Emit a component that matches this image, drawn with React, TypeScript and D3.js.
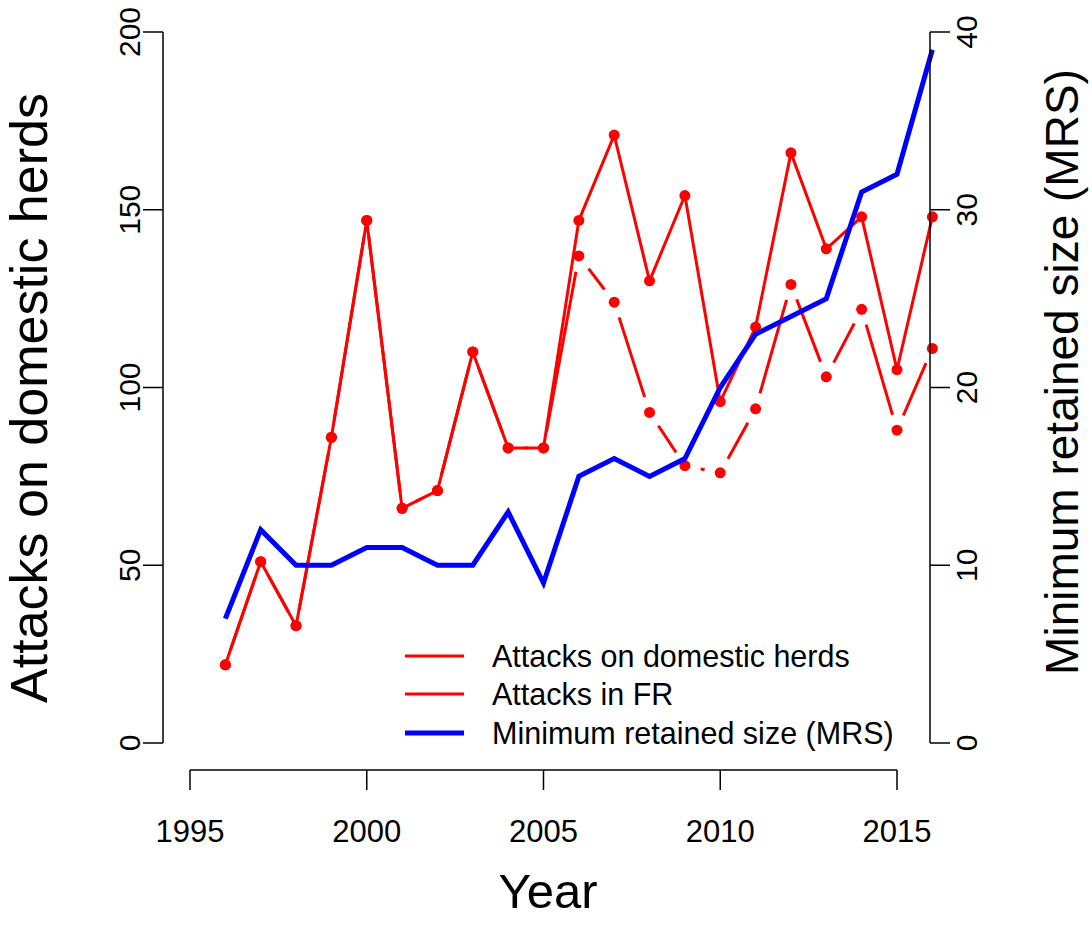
import React from "react";
import * as d3 from "d3";

const years = [1996,1997,1998,1999,2000,2001,2002,2003,2004,2005,2006,2007,2008,2009,2010,2011,2012,2013,2014,2015,2016];
const attacksDomestic = [22,51,33,86,147,66,71,110,83,83,147,171,130,154,96,117,166,139,148,105,148];
const attacksFR = [22,51,33,86,147,66,71,110,83,83,137,124,93,78,76,94,129,103,122,88,111];
const mrs = [7,12,10,10,11,11,10,10,13,9,15,16,15,16,20,23,24,25,31,32,39];
const xTicks = [1995,2000,2005,2010,2015];
const yLeftTicks = [0,50,100,150,200];
const yRightTicks = [0,10,20,30,40];
const legendLabels = ["Attacks on domestic herds","Attacks in FR","Minimum retained size (MRS)"];

const RED = "#ff0000";
const BLUE = "#0000ff";
const FONT = "'Liberation Sans', Arial, sans-serif";

export default function App() {
  const x = d3.scaleLinear().domain([1995, 2015]).range([190, 897]);
  const yL = d3.scaleLinear().domain([0, 200]).range([743, 32]);
  const yR = d3.scaleLinear().domain([0, 40]).range([743, 32]);

  const lineGen = d3.line<[number, number]>().x(d => d[0]).y(d => d[1]);
  const domPts: [number, number][] = years.map((yr, i) => [x(yr), yL(attacksDomestic[i])]);
  const frPts: [number, number][] = years.map((yr, i) => [x(yr), yL(attacksFR[i])]);
  const mrsPts: [number, number][] = years.map((yr, i) => [x(yr), yR(mrs[i])]);

  // type="b" segments with gaps around points
  const gap = 16;
  const frSegs = frPts.slice(0, -1).map((p, i) => {
    const q = frPts[i + 1];
    const dx = q[0] - p[0], dy = q[1] - p[1];
    const len = Math.hypot(dx, dy);
    if (len <= 2 * gap) return null;
    const ux = dx / len, uy = dy / len;
    return [p[0] + ux * gap, p[1] + uy * gap, q[0] - ux * gap, q[1] - uy * gap];
  }).filter(Boolean) as number[][];

  const legendY = [656, 694, 733];

  return (
    <svg width={1092} height={933} style={{ position: "absolute", left: 0, top: 0, background: "#fff" }} fontFamily={FONT}>
      <rect x={0} y={0} width={1092} height={933} fill="#fff" />
      {/* FR line, type b */}
      {frSegs.map((s, i) => (
        <line key={"fs" + i} x1={s[0]} y1={s[1]} x2={s[2]} y2={s[3]} stroke={RED} strokeWidth={3} />
      ))}
      {frPts.map((p, i) => (
        <circle key={"fp" + i} cx={p[0]} cy={p[1]} r={5.5} fill={RED} />
      ))}
      {/* Domestic line, type o */}
      <path d={lineGen(domPts) || ""} fill="none" stroke={RED} strokeWidth={3} strokeLinejoin="round" />
      {domPts.map((p, i) => (
        <circle key={"dp" + i} cx={p[0]} cy={p[1]} r={5.5} fill={RED} />
      ))}
      {/* MRS */}
      <path d={lineGen(mrsPts) || ""} fill="none" stroke={BLUE} strokeWidth={5} strokeLinejoin="miter" />

      {/* Left axis */}
      <line x1={163} x2={163} y1={yL(0)} y2={yL(200)} stroke="#000" strokeWidth={1.5} />
      {yLeftTicks.map(t => (
        <g key={"yl" + t}>
          <line x1={143} x2={163} y1={yL(t)} y2={yL(t)} stroke="#000" strokeWidth={1.5} />
          <text transform={`translate(140,${yL(t)}) rotate(-90)`} textAnchor="middle" fontSize={30} fill="#000">{t}</text>
        </g>
      ))}
      {/* Right axis */}
      <line x1={930} x2={930} y1={yR(0)} y2={yR(40)} stroke="#000" strokeWidth={1.5} />
      {yRightTicks.map(t => (
        <g key={"yr" + t}>
          <line x1={930} x2={950} y1={yR(t)} y2={yR(t)} stroke="#000" strokeWidth={1.5} />
          <text transform={`translate(977,${yR(t)}) rotate(-90)`} textAnchor="middle" fontSize={30} fill="#000">{t}</text>
        </g>
      ))}
      {/* X axis */}
      <line x1={x(1995)} x2={x(2015)} y1={770} y2={770} stroke="#000" strokeWidth={1.5} />
      {xTicks.map(t => (
        <g key={"x" + t}>
          <line x1={x(t)} x2={x(t)} y1={770} y2={790} stroke="#000" strokeWidth={1.5} />
          <text x={x(t)} y={842} textAnchor="middle" fontSize={31} fill="#000">{t}</text>
        </g>
      ))}
      {/* Titles */}
      <text x={548} y={908} textAnchor="middle" fontSize={49} fill="#000">Year</text>
      <text transform={`translate(47,398) rotate(-90)`} textAnchor="middle" fontSize={52} fill="#000">Attacks on domestic herds</text>
      <text transform={`translate(1078,372) rotate(-90)`} textAnchor="middle" fontSize={46} fill="#000">Minimum retained size (MRS)</text>

      {/* Legend */}
      {legendLabels.map((lab, i) => (
        <g key={"lg" + i}>
          <line x1={405} x2={464} y1={legendY[i]} y2={legendY[i]} stroke={i === 2 ? BLUE : RED} strokeWidth={i === 2 ? 5 : 3} />
          <text x={492} y={legendY[i]} dy="0.36em" fontSize={30.5} fill="#000">{lab}</text>
        </g>
      ))}
    </svg>
  );
}
